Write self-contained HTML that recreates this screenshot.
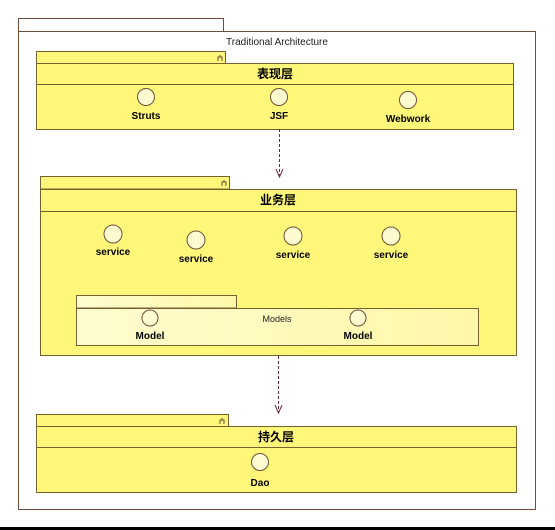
<!DOCTYPE html>
<html><head><meta charset="utf-8"><style>
html,body{margin:0;padding:0;background:#fff;}
svg{display:block;}
text{font-family:"Liberation Sans","Noto Sans CJK SC",sans-serif;}
.b{font-weight:bold;font-size:10px;fill:#000;text-anchor:middle;}
.t{font-size:12px;font-weight:bold;text-anchor:middle;}
</style></head><body>
<svg width="555" height="530" viewBox="0 0 555 530" xmlns="http://www.w3.org/2000/svg">
<defs>
<linearGradient id="g" x1="0" x2="1"><stop offset="0" stop-color="#fffcd0"/><stop offset="1" stop-color="#fff8a8"/></linearGradient>
</defs>
<g stroke="#6e4f3a" stroke-width="1" fill="none">
<rect x="18.5" y="18.5" width="205" height="13" fill="#fff"/>
<rect x="18.5" y="31.5" width="517" height="478" fill="#fff"/>
</g>
<text x="277" y="45" font-size="10" text-anchor="middle" fill="#222">Traditional  Architecture</text>

<!-- top -->
<g stroke="#7a6030" fill="#fff77a">
<rect x="36.5" y="51.5" width="189" height="12"/>
<rect x="36.5" y="63.5" width="477" height="66"/>
<line x1="36.5" y1="84.5" x2="513.5" y2="84.5"/>
</g>
<path d="M218 61v-4h4v4M220 57v-2" stroke="#6e4f3a" fill="none"/>
<text x="275" y="78" class="t">表现层</text>
<g stroke="#6e4f3a" fill="#fffbd0">
<circle cx="146" cy="97" r="8.5"/><circle cx="279" cy="97" r="8.5"/><circle cx="408" cy="100" r="8.5"/>
</g>
<text x="146" y="119" class="b">Struts</text>
<text x="279" y="119" class="b">JSF</text>
<text x="408" y="122" class="b">Webwork</text>

<line x1="279.5" y1="129" x2="279.5" y2="176" stroke="#6e2a3a" stroke-dasharray="3,2"/>
<path d="M276 169l3.5 8l3.5-8" stroke="#6e2a3a" fill="none"/>

<!-- middle -->
<g stroke="#7a6030" fill="#fff77a">
<rect x="40.5" y="176.5" width="189" height="12.5"/>
<rect x="40.5" y="189.5" width="476" height="166"/>
<line x1="40.5" y1="211.5" x2="516.5" y2="211.5"/>
</g>
<path d="M222 186v-4h4v4M224 182v-2" stroke="#6e4f3a" fill="none"/>
<text x="278" y="204" class="t">业务层</text>
<g stroke="#6e4f3a" fill="#fffbd0">
<circle cx="113" cy="234" r="9"/><circle cx="196" cy="240" r="9"/><circle cx="293" cy="236" r="9"/><circle cx="391" cy="236" r="9"/>
</g>
<text x="113" y="255" class="b">service</text>
<text x="196" y="262" class="b">service</text>
<text x="293" y="258" class="b">service</text>
<text x="391" y="258" class="b">service</text>

<g stroke="#7a6030" fill="url(#g)">
<rect x="76.5" y="295.5" width="160" height="12.5"/>
<rect x="76.5" y="308.5" width="402" height="37"/>
</g>
<text x="277" y="322" font-size="9" text-anchor="middle" fill="#222">Models</text>
<g stroke="#6e4f3a" fill="#fffbd0">
<circle cx="150" cy="318" r="8"/><circle cx="358" cy="318" r="8"/>
</g>
<text x="150" y="339" class="b">Model</text>
<text x="358" y="339" class="b">Model</text>

<line x1="278.5" y1="356" x2="278.5" y2="412" stroke="#6e2a3a" stroke-dasharray="3,2"/>
<path d="M275 405l3.5 8l3.5-8" stroke="#6e2a3a" fill="none"/>

<!-- bottom -->
<g stroke="#7a6030" fill="#fff77a">
<rect x="36.5" y="414.5" width="192" height="12"/>
<rect x="36.5" y="426.5" width="480" height="66"/>
<line x1="36.5" y1="447.5" x2="516.5" y2="447.5"/>
</g>
<path d="M220 424v-4h4v4M222 420v-2" stroke="#6e4f3a" fill="none"/>
<text x="276" y="441" class="t">持久层</text>
<circle cx="260" cy="462" r="8.5" stroke="#6e4f3a" fill="#fffbd0"/>
<text x="260" y="486" class="b">Dao</text>

<rect x="0" y="527" width="555" height="3" fill="#000"/>
</svg>
</body></html>
